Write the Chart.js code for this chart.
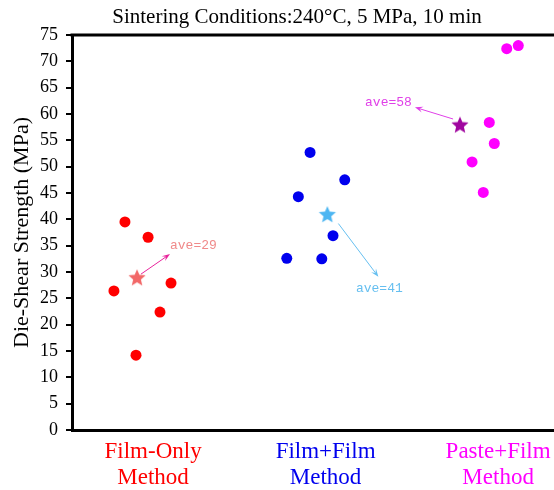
<!DOCTYPE html>
<html>
<head>
<meta charset="utf-8">
<script src="https://cdn.jsdelivr.net/npm/chart.js@4.4.0/dist/chart.umd.min.js"></script>
<style>
html, body { margin: 0; padding: 0; background: #fff; }
</style>
</head>
<body>
<canvas id="shearChart" width="554" height="490"></canvas>
<script>
// die-shear strength per sample, grouped by bonding method (x = jittered slot around 1, 2, 3)
const methodLabels = [["Film-Only", "Method"], ["Film+Film", "Method"], ["Paste+Film", "Method"]];
const filmOnlyX = [0.837, 0.971, 0.773, 1.104, 1.040, 0.901];
const filmOnlyY = [39.5, 36.6, 26.4, 27.9, 22.4, 14.2];
const filmFilmX = [1.910, 2.111, 1.842, 2.043, 1.775, 1.978];
const filmFilmY = [52.7, 47.5, 44.3, 36.9, 32.6, 32.5];
const pasteFilmX = [3.050, 3.117, 2.949, 2.978, 2.849, 2.914];
const pasteFilmY = [72.4, 73.0, 58.4, 54.4, 50.9, 45.1];
// averages (star markers)
const aveX = [0.907, 2.010, 2.779];
const aveY = [29, 41, 58];

const methodColors = ["#ff0000", "#0000ee", "#ff00ff"];
const starColors = ["#f26868", "#4db6f2", "#a0069f"];
const noteColors = ["#f08a8a", "#66bff0", "#e040e8"];
const arrowColors = ["#e8249c", "#66bff0", "#e040e8"];

function toPoints(xs, ys) {
    return xs.map((x, i) => ({ x: x, y: ys[i] }));
}

// filled five point star as a point image
function makeStar(color, r) {
    const c = document.createElement("canvas");
    c.width = c.height = 2 * r + 2;
    const g = c.getContext("2d");
    g.beginPath();
    for (let i = 0; i < 10; i++) {
        const rad = i % 2 ? r * 0.45 : r;
        const a = -Math.PI / 2 + i * Math.PI / 5;
        g.lineTo(r + 1 + rad * Math.cos(a), r + 1 + rad * Math.sin(a) + r * 0.1);
    }
    g.closePath();
    g.fillStyle = color;
    g.fill();
    return c;
}

const dotStyle = { showLine: false, pointRadius: 5.5, pointHoverRadius: 5.5, pointBorderWidth: 0 };

const datasets = [
    Object.assign({ data: toPoints(filmOnlyX, filmOnlyY), backgroundColor: methodColors[0] }, dotStyle),
    Object.assign({ data: toPoints(filmFilmX, filmFilmY), backgroundColor: methodColors[1] }, dotStyle),
    Object.assign({ data: toPoints(pasteFilmX, pasteFilmY), backgroundColor: methodColors[2] }, dotStyle),
];
aveX.forEach((x, i) => {
    datasets.push({
        data: [{ x: x, y: aveY[i] }],
        showLine: false,
        pointStyle: makeStar(starColors[i], 9),
    });
});

// ave=.. notes: arrow from near the star to the text
const notes = [
    { from: [0.93, 29.6], to: [1.098, 33.4], at: [1.098, 35.1], align: "left" },
    { from: [2.074, 39.2], to: [2.306, 29.1], at: [2.176, 26.8], align: "left" },
    { from: [2.739, 59.05], to: [2.518, 61.27], at: [2.500, 62.1], align: "right" },
];

function drawArrow(ctx, x0, y0, x1, y1, color) {
    const a = Math.atan2(y1 - y0, x1 - x0);
    const L = 8, W = 3;
    const c = Math.cos(a), s = Math.sin(a);
    ctx.strokeStyle = color;
    ctx.fillStyle = color;
    ctx.lineWidth = 1;
    ctx.beginPath();
    ctx.moveTo(x0, y0);
    ctx.lineTo(x1 - L * 0.6 * c, y1 - L * 0.6 * s);
    ctx.stroke();
    ctx.beginPath();
    ctx.moveTo(x1, y1);
    ctx.lineTo(x1 - L * c + W * s, y1 - L * s - W * c);
    ctx.lineTo(x1 - L * 0.6 * c, y1 - L * 0.6 * s);
    ctx.lineTo(x1 - L * c - W * s, y1 - L * s + W * c);
    ctx.closePath();
    ctx.fill();
}

const extras = {
    id: "extras",
    afterDraw(chart) {
        const { ctx, chartArea, scales } = chart;
        const xs = scales.x, ys = scales.y;
        ctx.save();
        // top frame line
        ctx.strokeStyle = "#000";
        ctx.lineWidth = 3;
        ctx.beginPath();
        ctx.moveTo(chartArea.left - 1.5, chartArea.top);
        ctx.lineTo(chartArea.right, chartArea.top);
        ctx.stroke();

        // heading
        ctx.fillStyle = "#000";
        ctx.font = '21px "Liberation Serif"';
        ctx.textAlign = "center";
        ctx.textBaseline = "middle";
        ctx.fillText("Sintering Conditions:240\u00B0C, 5 MPa, 10 min", 297, 17);

        notes.forEach((n, i) => {
            drawArrow(ctx,
                xs.getPixelForValue(n.from[0]), ys.getPixelForValue(n.from[1]),
                xs.getPixelForValue(n.to[0]), ys.getPixelForValue(n.to[1]),
                arrowColors[i]);
            ctx.fillStyle = noteColors[i];
            ctx.font = '13px "Liberation Mono"';
            ctx.textAlign = n.align;
            ctx.textBaseline = "middle";
            ctx.fillText("ave=" + aveY[i], xs.getPixelForValue(n.at[0]), ys.getPixelForValue(n.at[1]));
        });
        ctx.restore();
    }
};

new Chart("shearChart", {
    type: "scatter",
    data: { datasets: datasets },
    options: {
        responsive: false,
        animation: false,
        events: [],
        layout: { autoPadding: false, padding: { top: 35, right: 0, left: 0, bottom: 0 } },
        plugins: { legend: { display: false }, tooltip: { enabled: false } },
        scales: {
            x: {
                type: "linear",
                min: 0.53,
                max: 3.324,
                afterBuildTicks: s => { s.ticks = methodLabels.map((m, i) => ({ value: i + 1 })); },
                afterFit: s => { s.height = 60; s.paddingLeft = 0; s.paddingRight = 0; },
                grid: { display: false, drawTicks: false },
                border: { display: true, color: "#000", width: 3 },
                ticks: {
                    autoSkip: false,
                    maxRotation: 0,
                    padding: 8,
                    font: { family: "Liberation Serif", size: 23, lineHeight: 1.17 },
                    color: ctx => methodColors[ctx.index],
                    callback: (v, i) => methodLabels[i],
                },
            },
            y: {
                min: 0,
                max: 75,
                afterFit: s => { s.width = 72; s.paddingTop = 0; s.paddingBottom = 0; },
                grid: { drawOnChartArea: false, drawTicks: true, tickLength: 6, color: "#000", lineWidth: 2 },
                border: { color: "#000", width: 3 },
                ticks: {
                    stepSize: 5,
                    autoSkip: false,
                    padding: 8,
                    color: "#000",
                    font: { family: "Liberation Serif", size: 18 },
                },
                title: {
                    display: true,
                    text: "Die-Shear Strength (MPa)",
                    color: "#000",
                    font: { family: "Liberation Serif", size: 22 },
                    padding: { top: 9, bottom: 0 },
                },
            },
        },
    },
    plugins: [extras],
});
</script>
</body>
</html>
